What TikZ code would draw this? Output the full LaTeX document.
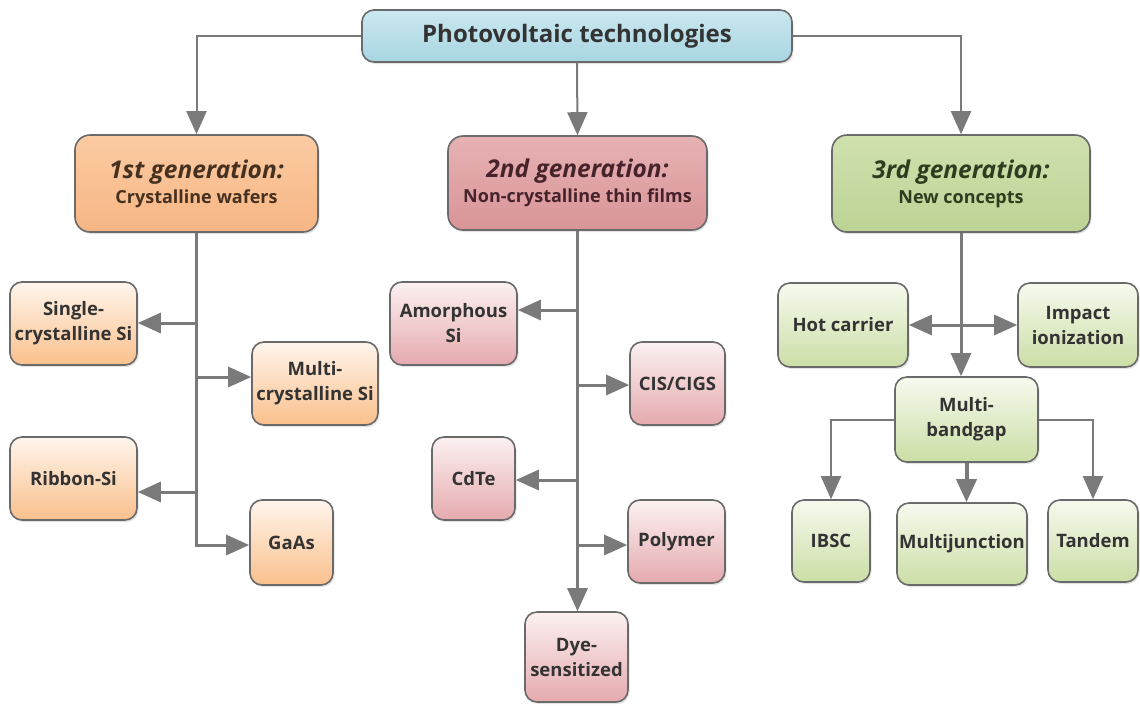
\documentclass[tikz,border=0pt]{standalone}
\usepackage{fontspec}
\setmainfont{Open Sans}
\usetikzlibrary{arrows.meta,shadows}

% palette
\definecolor{linegray}{HTML}{7A7A7A}
\definecolor{boxborder}{HTML}{6A6A6A}
\definecolor{textdark}{HTML}{333333}
\definecolor{bluetop}{HTML}{CBE8F0}
\definecolor{bluebot}{HTML}{A8D5E2}
% generation boxes
\definecolor{orangegtop}{HTML}{FBCBA3}
\definecolor{orangegbot}{HTML}{F7B684}
\definecolor{pinkgtop}{HTML}{E6B2B4}
\definecolor{pinkgbot}{HTML}{D99497}
\definecolor{greengtop}{HTML}{D0E1AF}
\definecolor{greengbot}{HTML}{BCD394}
\definecolor{orangetext}{HTML}{46301F}
\definecolor{pinktext}{HTML}{46222A}
\definecolor{greentext}{HTML}{2E3D1F}
% leaf boxes
\definecolor{orangetop}{HTML}{FFF5EC}
\definecolor{orangebot}{HTML}{FAC08C}
\definecolor{pinktop}{HTML}{FCF1F1}
\definecolor{pinkbot}{HTML}{E5AAAE}
\definecolor{greentop}{HTML}{F6FAEE}
\definecolor{greenbot}{HTML}{CBDEA6}

% heading line inside the generation boxes
\newcommand\genhead{\fontsize{24.5}{29}\selectfont\bfseries\itshape}

\begin{document}
\begin{tikzpicture}[x=1pt,y=-1pt,
  box/.style={draw=boxborder, line width=1.6pt, rounded corners=12pt,
    align=center, inner sep=2pt, text=textdark,
    font=\fontsize{18.5}{25}\selectfont\bfseries,
    drop shadow={shadow xshift=1.5pt, shadow yshift=-2pt, opacity=0.22}},
  leaf/.style={box, top color=#1top, bottom color=#1bot},
  genbox/.style={box, rounded corners=15pt, top color=#1gtop,
    bottom color=#1gbot, text=#1text, font=\fontsize{18}{25}\selectfont\bfseries},
  conn/.style={draw=linegray, line width=3pt},
  tip/.style={},
  arr/.style={conn, -{Triangle[length=23pt 0,width=20pt 0]}},
  arrboth/.style={conn, {Triangle[length=23pt 0,width=20pt 0]}-{Triangle[length=23pt 0,width=20pt 0]}},
  thinarr/.style={arr, line width=2pt},
  thickarr/.style={arr, line width=4pt},
]
\useasboundingbox (0,0) rectangle (1140,705);

% root
\node[box, rounded corners=12pt, top color=bluetop, bottom color=bluebot,
  minimum width=430pt, minimum height=52pt,
  font=\fontsize{24}{28}\selectfont\bfseries] (root) at (577,36)
  {Photovoltaic technologies};

% generations
\node[genbox=orange, minimum width=243pt, minimum height=97pt] (g1) at (196.5,183.5)
  {{\genhead 1st generation:}\\Crystalline wafers};
\node[genbox=pink, minimum width=259pt, minimum height=94pt] (g2) at (577.5,183)
  {{\genhead 2nd generation:}\\Non-crystalline thin films};
\node[genbox=green, minimum width=258pt, minimum height=97pt] (g3) at (961,183.5)
  {{\genhead 3rd generation:}\\New concepts};

% first generation leaves
\node[leaf=orange, minimum width=127pt, minimum height=83pt] (single) at (73.5,323.5) {Single-\\crystalline Si};
\node[leaf=orange, minimum width=126pt, minimum height=83pt] (multi) at (315,383.5) {Multi-\\crystalline Si};
\node[leaf=orange, minimum width=127pt, minimum height=83pt] (ribbon) at (73.5,478.5) {Ribbon-Si};
\node[leaf=orange, minimum width=83pt, minimum height=85pt] (gaas) at (291.5,542.5) {GaAs};

% second generation leaves
\node[leaf=pink, minimum width=127pt, minimum height=83pt] (amorph) at (453.5,323.5) {Amorphous\\Si};
\node[leaf=pink, minimum width=95pt, minimum height=83pt] (cis) at (677.5,383.5) {CIS/CIGS};
\node[leaf=pink, minimum width=83pt, minimum height=83pt] (cdte) at (473.5,478.5) {CdTe};
\node[leaf=pink, minimum width=97pt, minimum height=83pt] (polymer) at (676.5,541.5) {Polymer};
\node[leaf=pink, minimum width=103pt, minimum height=90pt] (dye) at (576.5,657) {Dye-\\sensitized};

% third generation leaves
\node[leaf=green, minimum width=130pt, minimum height=84pt] (hot) at (843,325) {Hot carrier};
\node[leaf=green, minimum width=120pt, minimum height=84pt] (impact) at (1078,325) {Impact\\ionization};
\node[leaf=green, minimum width=143pt, minimum height=85pt] (mbg) at (966.5,419.5) {Multi-\\bandgap};
\node[leaf=green, minimum width=78pt, minimum height=82pt] (ibsc) at (831,541) {IBSC};
\node[leaf=green, minimum width=130pt, minimum height=82pt] (mj) at (962,544) {Multijunction};
\node[leaf=green, minimum width=90pt, minimum height=82pt] (tandem) at (1093,541) {Tandem};

% root to generations
\draw[thinarr] (root.west) -| (g1.north);
\draw[thinarr] (root.south) -- (g2.north);
\draw[thinarr] (root.east) -| (g3.north);

% first generation trunk
\coordinate (a1) at (196.5,323);
\coordinate (a2) at (196.5,377);
\coordinate (a3) at (196.5,492);
\coordinate (a4) at (196.5,545);
\draw[conn] (g1.south) -- (a4);
\draw[arr] (a1) -- (a1 -| single.east);
\draw[arr] (a2) -- (a2 -| multi.west);
\draw[arr] (a3) -- (a3 -| ribbon.east);
\draw[arr] ([xshift=-1.5pt]a4) -- (a4 -| gaas.west);

% second generation trunk
\coordinate (b1) at (577.5,310);
\coordinate (b2) at (577.5,385);
\coordinate (b3) at (577.5,480);
\coordinate (b4) at (577.5,545);
\draw[arr] (g2.south) -- (g2.south |- dye.north);
\draw[arr] (b1) -- (b1 -| amorph.east);
\draw[arr] (b2) -- (b2 -| cis.west);
\draw[arr] (b3) -- (b3 -| cdte.east);
\draw[arr] (b4) -- (b4 -| polymer.west);

% third generation
\draw[arr] (g3.south) -- (g3.south |- mbg.north);
\draw[arrboth] (hot.east) -- (impact.west);
\draw[thinarr] (mbg.west) -| (ibsc.north);
\draw[thinarr] (mbg.east) -| (tandem.north);
\draw[thickarr] (mbg.south) -- (mbg.south |- mj.north);
\end{tikzpicture}
\end{document}
